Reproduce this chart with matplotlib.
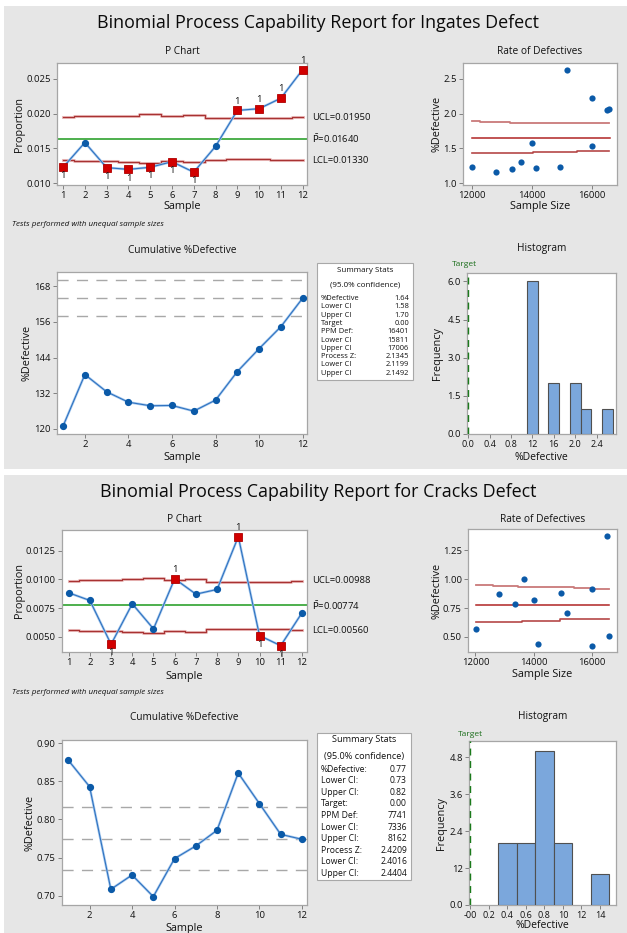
import matplotlib
matplotlib.use('Agg')
import matplotlib.pyplot as plt
from matplotlib.patches import Rectangle
import matplotlib.transforms as mtransforms

W, H = 627, 933
plt.rcParams['font.family'] = ['Open Sans', 'DejaVu Sans']
plt.rcParams['mathtext.fontset'] = 'dejavusans'

# ---------------- data ----------------
samples = [1, 2, 3, 4, 5, 6, 7, 8, 9, 10, 11, 12]
sample_size = [14920, 14000, 14140, 13340, 12020, 13650, 12820, 15990, 16500, 16560, 15990, 15150]

# Ingates defect
ing_prop = [0.0123, 0.01585, 0.01225, 0.0120, 0.0123, 0.0131, 0.0116, 0.0153, 0.02045, 0.0207, 0.0222, 0.0263]
ing_ucl = [0.01952, 0.01962, 0.01961, 0.01970, 0.01988, 0.01966, 0.01977, 0.01941, 0.01937, 0.01936, 0.01941, 0.01950]
ing_lcl = [0.01328, 0.01318, 0.01319, 0.01310, 0.01292, 0.01314, 0.01303, 0.01339, 0.01343, 0.01344, 0.01339, 0.01330]
ing_pbar = 0.01640
ing_limit_labels = ["UCL=0.01950", r"$\bar{\mathrm{P}}$=0.01640", "LCL=0.01330"]
ing_out = [1, 3, 4, 5, 6, 7, 9, 10, 11, 12]
ing_cum = [1.210, 1.383, 1.325, 1.290, 1.278, 1.279, 1.260, 1.297, 1.393, 1.470, 1.544, 1.640]
ing_ci = [1.5811, 1.6401, 1.7006]
ing_rate_ucl_x = [12000, 12270, 13270, 15600, 16560]
ing_rate_ucl = [1.90, 1.88, 1.87, 1.86, 1.86]
ing_rate_ctr_x = [12000, 16600]
ing_rate_ctr = [1.645, 1.645]
ing_rate_lcl_x = [12000, 14040, 15490, 16570]
ing_rate_lcl = [1.44, 1.45, 1.47, 1.47]
ing_hist_centers = [1.2, 1.6, 2.0, 2.2, 2.6]
ing_hist_counts = [6, 2, 2, 1, 1]
ing_stat_names = ["%Defective", "Lower CI", "Upper CI", "Target", "PPM Def:", "Lower CI", "Upper CI",
                  "Process Z:", "Lower CI", "Upper CI"]
ing_stat_values = ["1.64", "1.58", "1.70", "0.00", "16401", "15811", "17006", "2.1345", "2.1199", "2.1492"]

# Cracks defect
crk_prop = [0.00884, 0.00817, 0.00436, 0.00788, 0.00570, 0.01006, 0.00872, 0.00913, 0.01372, 0.00512, 0.00424, 0.00709]
crk_ucl = [0.00989, 0.00996, 0.00995, 0.01002, 0.01014, 0.00999, 0.01006, 0.00982, 0.00979, 0.00978, 0.00982, 0.00988]
crk_lcl = [0.00559, 0.00552, 0.00553, 0.00546, 0.00534, 0.00549, 0.00542, 0.00566, 0.00569, 0.00570, 0.00566, 0.00560]
crk_pbar = 0.00774
crk_limit_labels = ["UCL=0.00988", r"$\bar{\mathrm{P}}$=0.00774", "LCL=0.00560"]
crk_out = [3, 6, 9, 10, 11]
crk_cum = [0.8777, 0.8431, 0.7083, 0.7271, 0.6987, 0.7486, 0.7652, 0.7858, 0.8610, 0.8208, 0.7805, 0.7740]
crk_ci = [0.7336, 0.7741, 0.8162]
crk_rate_ucl_x = [12030, 12600, 13470, 15360, 15990, 16570]
crk_rate_ucl = [0.950, 0.942, 0.933, 0.924, 0.916, 0.916]
crk_rate_ctr_x = [12030, 16570]
crk_rate_ctr = [0.776, 0.776]
crk_rate_lcl_x = [12030, 13580, 14900, 16570]
crk_rate_lcl = [0.631, 0.642, 0.654, 0.654]
crk_hist_centers = [0.4, 0.6, 0.8, 1.0, 1.4]
crk_hist_counts = [2, 2, 5, 2, 1]
crk_stat_names = ["%Defective:", "Lower CI:", "Upper CI:", "Target:", "PPM Def:", "Lower CI:", "Upper CI:",
                  "Process Z:", "Lower CI:", "Upper CI:"]
crk_stat_values = ["0.77", "0.73", "0.82", "0.00", "7741", "7336", "8162", "2.4209", "2.4016", "2.4404"]

# ---------------- helpers ----------------
fig = plt.figure(figsize=(W / 100, H / 100), dpi=100, facecolor='white')

BLUE_PT = '#0b5aa8'
BLUE_LN = '#2f72c0'
RED_SQ = '#d10000'
LIM_RED = '#a83232'
GREEN = '#1c9a1c'
PANEL = '#e6e6e6'
SPINE = '#a6a6a6'
TXT = '#111111'


def axpx(l, t, r, b):
    ax = fig.add_axes([l / W, 1 - b / H, (r - l) / W, (b - t) / H])
    for s in ax.spines.values():
        s.set_color(SPINE)
        s.set_linewidth(0.9)
    ax.tick_params(direction='out', length=3, width=0.6, color='#707070',
                   labelsize=6.8, labelcolor=TXT, pad=1.5)
    ax.set_facecolor('white')
    return ax


def tpx(x, y, s, **kw):
    kw.setdefault('color', TXT)
    fig.text(x / W, 1 - y / H, s, **kw)


def panel(top, bottom, title, title_y):
    fig.patches.append(Rectangle((4 / W, 1 - bottom / H), (W - 4) / W, (bottom - top) / H,
                                 transform=fig.transFigure, facecolor=PANEL, edgecolor='none', zorder=-10))
    tpx(318, title_y, title, fontsize=12.9, ha='center', va='center', color='#0a0a0a')


def pchart(box, prop, ucl, lcl, pbar, labels, out, ylim, yticks, yticklabels, xlim, oy):
    ax = axpx(*box)
    for arr in (ucl, lcl):
        ax.plot(samples, arr, drawstyle='steps-mid', color='#ecc0c0', lw=2.2, zorder=1)
        ax.plot(samples, arr, drawstyle='steps-mid', color=LIM_RED, lw=0.9, zorder=2)
    ax.axhline(pbar, xmin=0, xmax=1, color=GREEN, lw=1.1, zorder=2)
    ax.plot(samples, prop, color='#a9cbef', lw=1.8, zorder=3)
    ax.plot(samples, prop, color=BLUE_LN, lw=0.8, marker='o', ms=4.2,
            mfc=BLUE_PT, mec=BLUE_PT, zorder=4)
    for s in out:
        i = s - 1
        ax.plot(s, prop[i], marker='s', ms=6.0, mfc=RED_SQ, mec='#b00000', mew=0.6, zorder=5, ls='none')
        above = prop[i] > ucl[i]
        ax.annotate('1', (s, prop[i]), xytext=(0, 3.5 if above else -3.0), textcoords='offset points',
                    ha='center', va='bottom' if above else 'top', fontsize=6.8, color=TXT, zorder=6)
    ax.set_xlim(*xlim)
    ax.set_ylim(*ylim)
    ax.set_xticks(samples)
    ax.set_yticks(yticks)
    ax.set_yticklabels(yticklabels)
    trans = mtransforms.blended_transform_factory(ax.transAxes, ax.transData)
    yvals = [ucl[-1], pbar, lcl[-1]]
    for lab, yv in zip(labels, yvals):
        ax.text(1.02, yv, lab, transform=trans, fontsize=6.8, va='center', ha='left', color=TXT)
    tpx((box[0] + box[2]) / 2, oy[0], 'P Chart', fontsize=7.3, ha='center', va='center')
    tpx((box[0] + box[2]) / 2, oy[1], 'Sample', fontsize=7.8, ha='center', va='center')
    tpx(oy[2], (box[1] + box[3]) / 2, 'Proportion', fontsize=7.8, ha='center', va='center', rotation=90)
    return ax


def ratechart(box, prop, ux, uy, cx, cy, lx, ly, xlim, ylim, yticks, yticklabels, oy):
    ax = axpx(*box)
    ax.plot(ux, uy, drawstyle='steps-post', color='#c97a7a', lw=1.3, zorder=2)
    ax.plot(cx, cy, color='#b02424', lw=1.1, zorder=2)
    ax.plot(lx, ly, drawstyle='steps-post', color='#b54848', lw=1.2, zorder=2)
    pct = [p * 100 for p in prop]
    ax.scatter(sample_size, pct, s=20, color=BLUE_PT, zorder=4, linewidths=0)
    ax.set_xlim(*xlim)
    ax.set_ylim(*ylim)
    ax.set_xticks([12000, 14000, 16000])
    ax.set_xticklabels(['12000', '14000', '16000'])
    ax.set_yticks(yticks)
    ax.set_yticklabels(yticklabels)
    tpx((box[0] + box[2]) / 2, oy[0], 'Rate of Defectives', fontsize=7.3, ha='center', va='center')
    tpx((box[0] + box[2]) / 2, oy[1], 'Sample Size', fontsize=7.8, ha='center', va='center')
    tpx(oy[2], (box[1] + box[3]) / 2, '%Defective', fontsize=7.8, ha='center', va='center', rotation=90)
    return ax


def cumchart(box, cum, ci, xlim, ylim, yticks, yticklabels, oy):
    ax = axpx(*box)
    for c in ci:
        ax.axhline(c, color='#a8a8a8', lw=1.0, dashes=(8, 6), zorder=1)
    ax.plot(samples, cum, color='#a9cbef', lw=1.8, zorder=3)
    ax.plot(samples, cum, color=BLUE_LN, lw=0.8, marker='o', ms=4.2,
            mfc=BLUE_PT, mec=BLUE_PT, zorder=4)
    ax.set_xlim(*xlim)
    ax.set_ylim(*ylim)
    ax.set_xticks([2, 4, 6, 8, 10, 12])
    ax.set_yticks(yticks)
    ax.set_yticklabels(yticklabels)
    tpx((box[0] + box[2]) / 2, oy[0], 'Cumulative %Defective', fontsize=7.3, ha='center', va='center')
    tpx((box[0] + box[2]) / 2, oy[1], 'Sample', fontsize=7.8, ha='center', va='center')
    tpx(oy[2], (box[1] + box[3]) / 2, '%Defective', fontsize=7.8, ha='center', va='center', rotation=90)
    return ax


def histchart(box, centers, counts, xlim, ylim, xticks, xticklabels, yticks, yticklabels, oy):
    ax = axpx(*box)
    ax.bar(centers, counts, width=0.2, color='#7ba7dc', edgecolor='#505050', linewidth=0.8, zorder=3)
    ax.axvline(0.0, color='#1b7a1b', lw=1.0, dashes=(5, 4), zorder=4)
    ax.set_xlim(*xlim)
    ax.set_ylim(*ylim)
    ax.set_xticks(xticks)
    ax.set_xticklabels(xticklabels)
    ax.tick_params(axis='x', labelsize=6.5)
    ax.set_yticks(yticks)
    ax.set_yticklabels(yticklabels)
    tpx((box[0] + box[2]) / 2, oy[0], 'Histogram', fontsize=7.3, ha='center', va='center')
    tpx((box[0] + box[2]) / 2, oy[1], '%Defective', fontsize=7.5, ha='center', va='center')
    tpx(oy[2], (box[1] + box[3]) / 2, 'Frequency', fontsize=7.8, ha='center', va='center', rotation=90)
    tpx(oy[3], oy[4], 'Target', fontsize=6, ha='left', va='center', color='#1b6e1b')
    return ax


def statbox(l, t, r, b, names, values, head_y, row0, row_step, fs):
    fig.patches.append(Rectangle((l / W, 1 - b / H), (r - l) / W, (b - t) / H, transform=fig.transFigure,
                                 facecolor='white', edgecolor='#a8a8a8', lw=0.8, zorder=5))
    cx = (l + r) / 2
    tpx(cx, head_y[0], 'Summary Stats', fontsize=fs + 0.4, ha='center', va='center', zorder=6)
    tpx(cx, head_y[1], '(95.0% confidence)', fontsize=fs + 0.4, ha='center', va='center', zorder=6)
    for k, (n, v) in enumerate(zip(names, values)):
        y = row0 + k * row_step
        tpx(l + 4, y, n, fontsize=fs, ha='left', va='center', zorder=6)
        tpx(r - 4, y, v, fontsize=fs, ha='right', va='center', zorder=6)


# ---------------- top report ----------------
panel(6, 469, 'Binomial Process Capability Report for Ingates Defect', 23)
pchart((57, 63, 307, 185), ing_prop, ing_ucl, ing_lcl, ing_pbar, ing_limit_labels, ing_out,
       (0.00976, 0.02725), [0.010, 0.015, 0.020, 0.025], ['0.010', '0.015', '0.020', '0.025'],
       (0.72, 12.2), (52, 207, 19))
tpx(12, 224, 'Tests performed with unequal sample sizes', fontsize=5.8, style='italic', ha='left', va='center')
ratechart((463, 63, 617, 185), ing_prop, ing_rate_ucl_x, ing_rate_ucl, ing_rate_ctr_x, ing_rate_ctr,
          ing_rate_lcl_x, ing_rate_lcl, (11711, 16822), (0.976, 2.725),
          [1.0, 1.5, 2.0, 2.5], ['1.0', '1.5', '2.0', '2.5'], (52, 206, 437))
cumchart((57, 272, 307, 434), ing_cum, ing_ci, (0.72, 12.2), (1.183, 1.728),
         [1.20, 1.32, 1.44, 1.56, 1.68], ['120', '132', '144', '156', '168'], (250, 457, 27))
statbox(317, 263, 413, 380, ing_stat_names, ing_stat_values, (271, 285), 298.5, 8.3, 5.4)
histchart((467, 273, 616, 434), ing_hist_centers, ing_hist_counts, (-0.02, 2.76), (0, 6.33),
          [0.0, 0.4, 0.8, 1.2, 1.6, 2.0, 2.4], ['0.0', '0.4', '0.8', '12', '16', '2.0', '2.4'],
          [0.0, 1.5, 3.0, 4.5, 6.0], ['0.0', '1.5', '3.0', '4.5', '6.0'], (249, 457, 437, 452, 265))

# ---------------- bottom report ----------------
panel(475, 933, 'Binomial Process Capability Report for Cracks Defect', 492)
pchart((62, 530, 307, 652), crk_prop, crk_ucl, crk_lcl, crk_pbar, crk_limit_labels, crk_out,
       (0.00369, 0.0143), [0.0050, 0.0075, 0.0100, 0.0125], ['0.0050', '0.0075', '0.0100', '0.0125'],
       (0.685, 12.24), (519, 676, 20))
tpx(12, 692, 'Tests performed with unequal sample sizes', fontsize=5.8, style='italic', ha='left', va='center')
ratechart((468, 529, 617, 652), crk_prop, crk_rate_ucl_x, crk_rate_ucl, crk_rate_ctr_x, crk_rate_ctr,
          crk_rate_lcl_x, crk_rate_lcl, (11748, 16847), (0.369, 1.436),
          [0.50, 0.75, 1.00, 1.25], ['0.50', '0.75', '1.00', '1.25'], (519, 674, 437))
cumchart((62, 740, 307, 905), crk_cum, crk_ci, (0.70, 12.24), (0.6877, 0.9044),
         [0.70, 0.75, 0.80, 0.85, 0.90], ['0.70', '0.75', '0.80', '0.85', '0.90'], (718, 928, 30))
statbox(317, 733, 411, 880, crk_stat_names, crk_stat_values, (740, 757), 769, 11.6, 6.2)
histchart((469, 741, 616, 905), crk_hist_centers, crk_hist_counts, (-0.015, 1.574), (0, 5.32),
          [0.0, 0.2, 0.4, 0.6, 0.8, 1.0, 1.2, 1.4], ['-00', '0.2', '0.4', '0.6', '0.8', '10', '12', '14'],
          [0.0, 1.2, 2.4, 3.6, 4.8], ['0.0', '12', '2.4', '3.6', '4.8'], (717, 926, 441, 458, 734))

fig.savefig('out.png', dpi=100, facecolor='white')
